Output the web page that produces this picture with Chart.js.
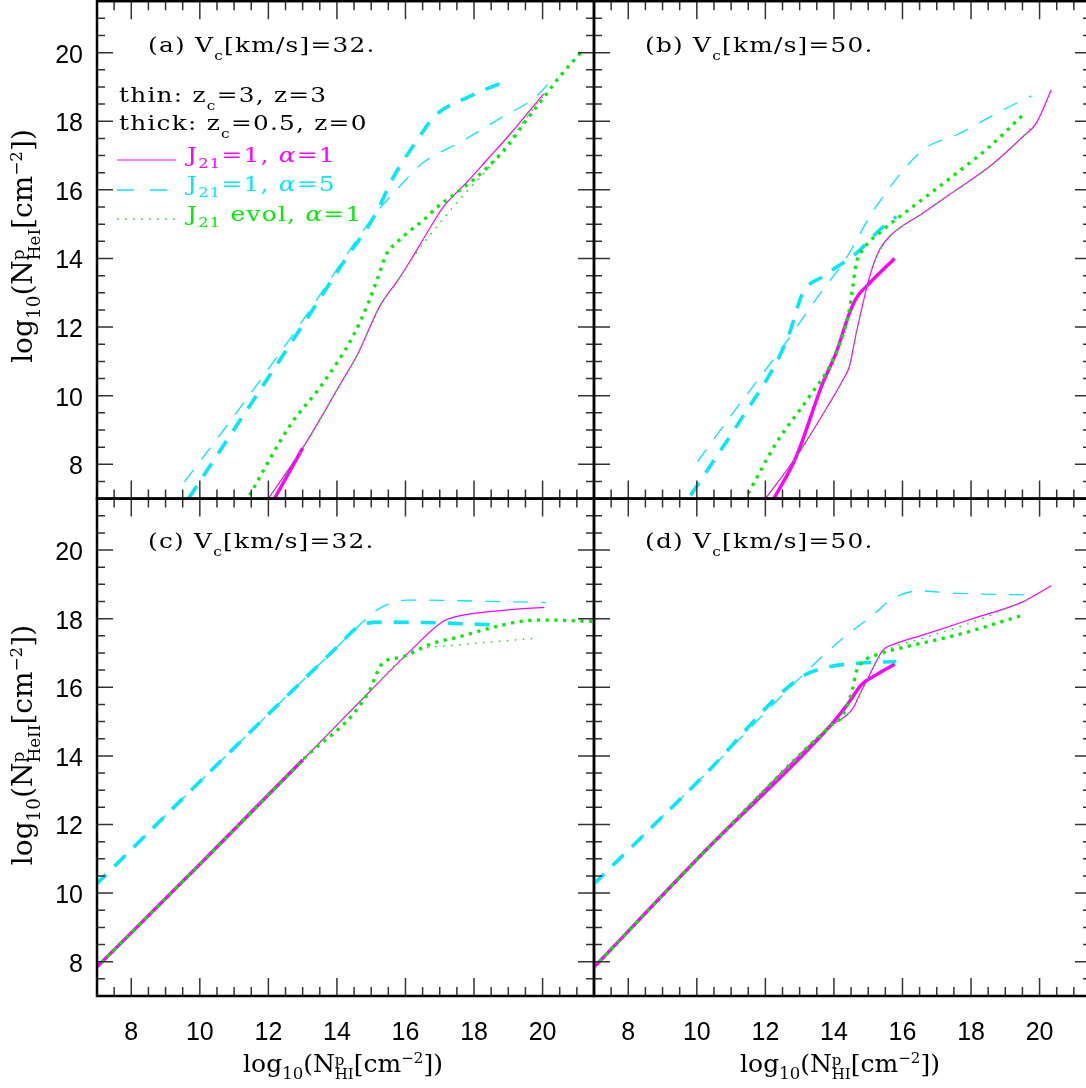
<!DOCTYPE html>
<html>
<head>
<meta charset="utf-8">
<title>Projected He column densities versus H I column density</title>
<script src="https://cdn.jsdelivr.net/npm/chart.js@4.4.1/dist/chart.umd.min.js"></script>
<style>
  html, body { margin: 0; padding: 0; background: #fff; }
  #fig { position: relative; width: 1086px; height: 1088px; overflow: hidden; background: #fff; }
  #fig canvas { position: absolute; left: -100px; top: -100px; }
  .tx { position: absolute; white-space: nowrap; font-family: "DejaVu Serif", serif; line-height: 1; color: #000; }
  .lab { font-size: 20px; letter-spacing: 1px; transform: scaleX(1.24); transform-origin: 0 0; }
  .sb { font-size: 62%; position: relative; top: 0.65em; }
  .sb2 { font-size: 66%; position: relative; top: 0.45em; }
  .sp { font-size: 60%; position: relative; top: -0.6em; }
  .st { display: inline-block; font-size: 60%; line-height: 0.9; vertical-align: -0.45em; }
  .st span { display: block; }
  .ttl { font-size: 25px; transform: translateX(-50%); }
  .ytl { font-size: 28px; transform: translate(-50%, -50%) rotate(-90deg); }
  .mag { color: #ff00ff; }
  .cya { color: #00e8ff; }
  .grn { color: #00ee00; }
</style>
</head>
<body>
<div id="fig">
  <canvas id="pa" width="1300" height="1300"></canvas>
  <canvas id="pb" width="1300" height="1300"></canvas>
  <canvas id="pc" width="1300" height="1300"></canvas>
  <canvas id="pd" width="1300" height="1300"></canvas>

  <div class="tx lab" style="left:148px;top:35px">(a) V<span class="sb">c</span>[km/s]=32.</div>
  <div class="tx lab" style="left:645px;top:35px">(b) V<span class="sb">c</span>[km/s]=50.</div>
  <div class="tx lab" style="left:148px;top:531px">(c) V<span class="sb">c</span>[km/s]=32.</div>
  <div class="tx lab" style="left:645px;top:531px">(d) V<span class="sb">c</span>[km/s]=50.</div>

  <div class="tx lab" style="left:119px;top:85px">thin: z<span class="sb">c</span>=3, z=3</div>
  <div class="tx lab" style="left:119px;top:113px">thick: z<span class="sb">c</span>=0.5, z=0</div>
  <svg style="position:absolute;left:110px;top:150px" width="76" height="80">
    <line x1="7" y1="10" x2="66" y2="10" stroke="#ff00ff" stroke-width="1.2"/>
    <line x1="7" y1="40" x2="66" y2="40" stroke="#00e8ff" stroke-width="1.3" stroke-dasharray="17 16"/>
    <line x1="7" y1="69" x2="66" y2="69" stroke="#00ee00" stroke-width="1.6" stroke-dasharray="1.6 6.4"/>
  </svg>
  <div class="tx lab mag" style="left:187px;top:145px">J<span class="sb2">21</span>=1, <i>α</i>=1</div>
  <div class="tx lab cya" style="left:187px;top:174px">J<span class="sb2">21</span>=1, <i>α</i>=5</div>
  <div class="tx lab grn" style="left:187px;top:204px">J<span class="sb2">21</span> evol, <i>α</i>=1</div>

  <div class="tx ytl" style="left:25px;top:246px">log<span class="sb2">10</span>(N<span class="st"><span>p</span><span>HeI</span></span>[cm<span class="sp">−2</span>])</div>
  <div class="tx ytl" style="left:25px;top:745px">log<span class="sb2">10</span>(N<span class="st"><span>p</span><span>HeII</span></span>[cm<span class="sp">−2</span>])</div>
  <div class="tx ttl" style="left:343px;top:1051px">log<span class="sb2">10</span>(N<span class="st"><span>p</span><span>HI</span></span>[cm<span class="sp">−2</span>])</div>
  <div class="tx ttl" style="left:840px;top:1051px">log<span class="sb2">10</span>(N<span class="st"><span>p</span><span>HI</span></span>[cm<span class="sp">−2</span>])</div>
</div>

<script>
// Axis limits (log10 column densities) and labelled ticks, shared by all panels
const xRange = [7, 21.5];
const yRange = [7, 21.5];
const tickValues = [8, 10, 12, 14, 16, 18, 20];

// Each curve: [log10 N_HI, log10 N_He] pairs.
// "thin" = z_c=3, z=3 ; "thick" = z_c=0.5, z=0
// alpha1 = J21=1, alpha=1 ; alpha5 = J21=1, alpha=5 ; evol = J21 evolving, alpha=1

// (a) Vc = 32 km/s, He I
const a_alpha1_thin  = [[11.98,6.97],[13.0,8.47],[14.17,10.46],[14.6,11.2],[15.24,12.59],[15.8,13.4],[16.15,13.95],[16.6,14.7],[17.1,15.5],[17.75,16.18],[18.4,16.9],[19.03,17.6],[20.03,18.8]];
const a_alpha1_thick = [[12.15,6.95],[13.0,8.47]];
const a_alpha5_thin  = [[9.55,7.49],[11.06,9.49],[12.91,12.06],[15.14,15.32],[15.82,16.09],[16.5,16.78],[17.67,17.43],[18.83,18.13],[19.81,18.72],[20.39,19.35]];
const a_alpha5_thick = [[9.67,7.0],[13.1,12.21],[14.17,13.86],[15.14,15.32],[15.63,16.34],[16.41,17.55],[16.85,18.15],[17.86,18.72],[18.88,19.15]];
const a_evol_thin    = [[11.98,6.97],[13.0,8.47],[14.17,10.46],[14.6,11.2],[15.24,12.59],[15.8,13.4],[16.21,14.02],[16.6,14.54],[17.57,15.71],[18.54,16.78],[19.52,18.09],[20.0,18.72]];
const a_evol_thick   = [[11.45,7.1],[12.61,9.1],[13.59,10.36],[14.46,11.72],[14.95,12.79],[15.24,13.57],[15.43,14.1],[15.77,14.49],[16.16,14.83],[16.55,15.14],[16.94,15.51],[17.4,15.85],[18.0,16.31],[18.54,16.8],[19.0,17.3],[19.5,18.0],[20.0,18.65],[20.5,19.3],[21.2,20.1]];

// (b) Vc = 50 km/s, He I
const b_alpha1_thin  = [[11.98,6.97],[12.9,8.22],[13.87,9.78],[14.26,10.46],[14.45,10.85],[14.65,11.82],[14.94,13.08],[15.13,13.76],[15.33,14.25],[15.62,14.64],[16.59,15.32],[17.57,16.0],[18.54,16.68],[19.51,17.55],[19.9,17.94],[20.34,18.91]];
const b_alpha1_thick = [[12.22,6.95],[12.9,8.22],[13.67,10.36],[14.06,11.24],[14.45,12.4],[14.65,12.84],[15.04,13.28],[15.77,14.0]];
const b_alpha5_thin  = [[10.02,8.08],[11.05,9.49],[12.51,11.43],[13.67,13.08],[14.26,13.86],[15.23,15.51],[16.59,17.16],[17.57,17.6],[19.03,18.38],[19.76,18.74]];
const b_alpha5_thick = [[9.82,7.1],[11.34,9.39],[12.31,10.95],[12.7,11.82],[13.09,12.99],[13.67,13.47],[14.65,14.15],[15.33,14.83],[15.82,15.22]];
const b_evol_thin    = [[11.98,6.97],[12.9,8.22],[13.87,9.78],[14.26,10.46],[14.45,10.85],[14.65,11.82],[14.94,13.08],[15.13,13.76],[15.33,14.25],[15.62,14.64],[16.59,15.32],[17.57,16.0],[18.54,16.68],[19.51,17.55],[19.8,17.88]];
const b_evol_thick   = [[11.5,7.15],[12.31,8.61],[13.28,9.97],[13.96,11.04],[14.45,12.5],[14.55,13.18],[14.65,13.86],[14.84,14.25],[15.43,14.83],[16.3,15.51],[17.57,16.48],[18.54,17.26],[19.51,18.18]];

// (c) Vc = 32 km/s, He II
const c_alpha1_thin  = [[6.95,7.8],[10.0,10.84],[13.0,13.88],[14.95,15.87],[16.11,17.03],[17.08,17.91],[17.47,18.06],[18.93,18.25],[20.05,18.33]];
const c_alpha1_thick = [[6.95,7.8],[10.0,10.84],[13.0,13.88]];
const c_alpha5_thin  = [[6.95,10.23],[9.9,13.15],[12.81,16.01],[14.0,17.17],[14.56,17.72],[15.24,18.3],[15.7,18.48],[16.01,18.54],[16.69,18.54],[18.15,18.51],[20.1,18.47]];
const c_alpha5_thick = [[6.95,10.23],[9.9,13.15],[12.81,16.01],[14.0,17.17],[14.56,17.72],[14.85,17.86],[15.3,17.9],[16.5,17.89],[18.83,17.81]];
const c_evol_thin    = [[6.95,7.8],[10.0,10.84],[13.0,13.88],[14.95,15.87],[16.11,17.0],[16.5,17.13],[17.47,17.23],[19.81,17.43]];
const c_evol_thick   = [[6.95,7.8],[10.0,10.84],[13.0,13.88],[14.95,15.9],[15.14,16.36],[15.33,16.7],[15.92,16.89],[16.79,17.28],[17.57,17.47],[18.45,17.72],[19.42,17.93],[20.1,17.96],[21.17,17.93],[21.6,17.92]];

// (d) Vc = 50 km/s, He II
const d_alpha1_thin  = [[6.98,7.82],[10.36,11.35],[13.87,14.85],[14.55,15.38],[14.74,15.77],[15.04,16.36],[15.23,16.74],[15.43,17.08],[15.82,17.28],[16.59,17.52],[18.05,18.0],[19.51,18.49],[20.34,18.96]];
const d_alpha1_thick = [[6.98,7.82],[10.36,11.35],[13.87,14.85],[14.45,15.58],[14.79,16.06],[15.23,16.36],[15.77,16.67]];
const d_alpha5_thin  = [[6.98,10.25],[10.22,13.44],[12.99,16.26],[14.26,17.43],[15.13,18.1],[15.72,18.59],[16.5,18.81],[17.57,18.74],[19.81,18.69]];
const d_alpha5_thick = [[6.98,10.25],[10.22,13.44],[12.99,16.26],[13.87,16.6],[14.74,16.7],[15.82,16.75]];
const d_evol_thin    = [[6.98,7.82],[10.36,11.35],[13.87,14.85],[14.26,15.1],[14.55,15.4],[14.74,15.77],[15.04,16.36],[15.23,16.74],[15.43,17.0],[15.82,17.2],[16.59,17.43],[18.05,17.9],[19.71,18.59]];
const d_evol_thick   = [[6.98,7.82],[10.36,11.35],[13.87,14.85],[14.26,15.19],[14.55,15.97],[14.65,16.45],[14.84,16.74],[15.23,16.94],[16.11,17.18],[17.57,17.52],[19.51,18.1]];

// Line styles: colour, width, dash pattern
const MAGENTA = '#ff00ff', CYAN = '#00e8ff', GREEN = '#00ee00';
const styles = {
  alpha1_thin:  [MAGENTA, 1.2, []],
  alpha1_thick: [MAGENTA, 3.4, []],
  alpha5_thin:  [CYAN, 1.3, [15, 13]],
  alpha5_thick: [CYAN, 3.6, [15, 12]],
  evol_thin:    [GREEN, 1.5, [1.5, 6.5]],
  evol_thick:   [GREEN, 3.3, [3.2, 5.5]]
};

// Page-pixel plot rectangles [left, top, right, bottom]; canvases sit at (-100,-100)
const OFF = 100, CW = 1300, CH = 1300;
const Y_AXIS_W = 90;   // room kept for the left tick labels
const X_AXIS_H = 60;   // room kept for the bottom tick labels
const panels = [
  { id: 'pa', rect: [97, 1.2, 594, 498.6], xLab: false, yLab: true,
    curves: { evol_thick: a_evol_thick, evol_thin: a_evol_thin, alpha1_thick: a_alpha1_thick, alpha1_thin: a_alpha1_thin, alpha5_thick: a_alpha5_thick, alpha5_thin: a_alpha5_thin } },
  { id: 'pb', rect: [594, 1.2, 1091, 498.6], xLab: false, yLab: false,
    curves: { evol_thick: b_evol_thick, evol_thin: b_evol_thin, alpha1_thick: b_alpha1_thick, alpha1_thin: b_alpha1_thin, alpha5_thick: b_alpha5_thick, alpha5_thin: b_alpha5_thin } },
  { id: 'pc', rect: [97, 498.6, 594, 996], xLab: true, yLab: true,
    curves: { evol_thick: c_evol_thick, evol_thin: c_evol_thin, alpha1_thick: c_alpha1_thick, alpha1_thin: c_alpha1_thin, alpha5_thick: c_alpha5_thick, alpha5_thin: c_alpha5_thin } },
  { id: 'pd', rect: [594, 498.6, 1091, 996], xLab: true, yLab: false,
    curves: { evol_thick: d_evol_thick, evol_thin: d_evol_thin, alpha1_thick: d_alpha1_thick, alpha1_thin: d_alpha1_thin, alpha5_thick: d_alpha5_thick, alpha5_thin: d_alpha5_thin } }
];

// Frame and inward-pointing tick marks on all four sides
const frameTicks = {
  id: 'frameTicks',
  afterDatasetsDraw(chart) {
    const { ctx, chartArea: a, scales: { x, y } } = chart;
    ctx.save();
    ctx.strokeStyle = '#333';
    ctx.lineWidth = 1.5;
    ctx.beginPath();
    for (let k = 1; k < 29; k++) {
      const v = 7 + k * 0.5;
      const major = tickValues.includes(v);
      const lx = major ? 18 : 9, ly = major ? 16 : 8;
      const px = x.getPixelForValue(v), py = y.getPixelForValue(v);
      ctx.moveTo(px, a.bottom); ctx.lineTo(px, a.bottom - lx);
      ctx.moveTo(px, a.top); ctx.lineTo(px, a.top + lx);
      ctx.moveTo(a.left, py); ctx.lineTo(a.left + ly, py);
      ctx.moveTo(a.right, py); ctx.lineTo(a.right - ly, py);
    }
    ctx.stroke();
    ctx.strokeStyle = '#000';
    ctx.lineWidth = 2.5;
    ctx.strokeRect(a.left, a.top, a.right - a.left, a.bottom - a.top);
    ctx.restore();
  }
};

const tickFont = { family: "'Liberation Sans', Arial, sans-serif", size: 25 };

function dataset(key, pts) {
  const [color, width, dash] = styles[key];
  return {
    label: key,
    data: pts.map(([x, y]) => ({ x, y })),
    borderColor: color,
    borderWidth: width,
    borderDash: dash,
    borderCapStyle: 'butt',
    borderJoinStyle: 'round',
    pointRadius: 0,
    fill: false,
    cubicInterpolationMode: 'monotone',
    clip: 0
  };
}

panels.forEach(p => {
  const [l, t, r, b] = p.rect;
  const yW = p.yLab ? Y_AXIS_W : 0;
  const xH = p.xLab ? X_AXIS_H : 0;
  new Chart(document.getElementById(p.id), {
    type: 'line',
    data: { datasets: Object.keys(p.curves).map(k => dataset(k, p.curves[k])) },
    plugins: [frameTicks],
    options: {
      responsive: false,
      animation: false,
      devicePixelRatio: 1,
      events: [],
      parsing: false,
      layout: { padding: { left: l + OFF - yW, top: t + OFF, right: CW - (r + OFF), bottom: CH - (b + OFF) - xH } },
      plugins: { legend: { display: false }, tooltip: { enabled: false } },
      scales: {
        x: {
          type: 'linear', min: xRange[0], max: xRange[1],
          afterFit(s) { s.height = xH; },
          afterBuildTicks(s) { s.ticks = tickValues.map(v => ({ value: v })); },
          grid: { display: false, drawTicks: false },
          border: { display: false },
          ticks: { display: p.xLab, font: tickFont, color: '#000', padding: 22, autoSkip: false, maxRotation: 0 }
        },
        y: {
          type: 'linear', min: yRange[0], max: yRange[1],
          afterFit(s) { s.width = yW; },
          afterBuildTicks(s) { s.ticks = tickValues.map(v => ({ value: v })); },
          grid: { display: false, drawTicks: false },
          border: { display: false },
          ticks: { display: p.yLab, font: tickFont, color: '#000', padding: 14, labelOffset: 3, autoSkip: false }
        }
      }
    }
  });
});
</script>
</body>
</html>
